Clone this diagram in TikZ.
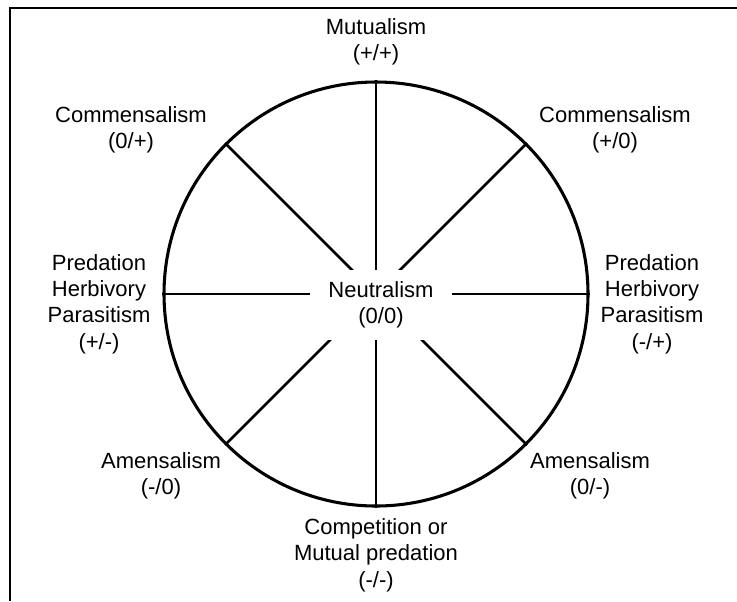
\documentclass[tikz,border=0pt]{standalone}
\usepackage{fontspec}
\setmainfont{Liberation Sans}

\begin{document}
\begin{tikzpicture}[x=0.75pt, y=-0.75pt,
    every node/.style={align=center, font=\fontsize{16.5}{19.8}\selectfont},
    spoke/.style={line width=2.1pt},
    rim/.style={circle, draw, line width=2.3pt, minimum size=318pt, inner sep=0pt}]

  \useasboundingbox (0,0) rectangle (737,601);
  \draw[line width=1.6pt] (737,8) -- (10,8) -- (10,601);

  \node[rim] (wheel) at (376,294) {};
  \foreach \a in {0,45,...,315}
    \draw[spoke] (wheel.center) -- (wheel.\a);
  \node[fill=white, minimum width=107pt, minimum height=52.5pt, inner sep=0pt] (neutral) at (381,305) {Neutralism\\(0/0)};

  \node (mutual) at (376,42) {Mutualism\\(+/+)};
  \node (commL) at (131,130) {Commensalism\\(0/+)};
  \node (commR) at (615,130) {Commensalism\\(+/0)};
  \node (predL) at (99,304) {Predation\\Herbivory\\Parasitism\\(+/-)};
  \node (predR) at (652,304) {Predation\\Herbivory\\Parasitism\\(-/+)};
  \node (amenL) at (161,476) {Amensalism\\(-/0)};
  \node (amenR) at (590,476) {Amensalism\\(0/-)};
  \node (compet) at (376,555) {Competition or\\Mutual predation\\(-/-)};
\end{tikzpicture}
\end{document}
